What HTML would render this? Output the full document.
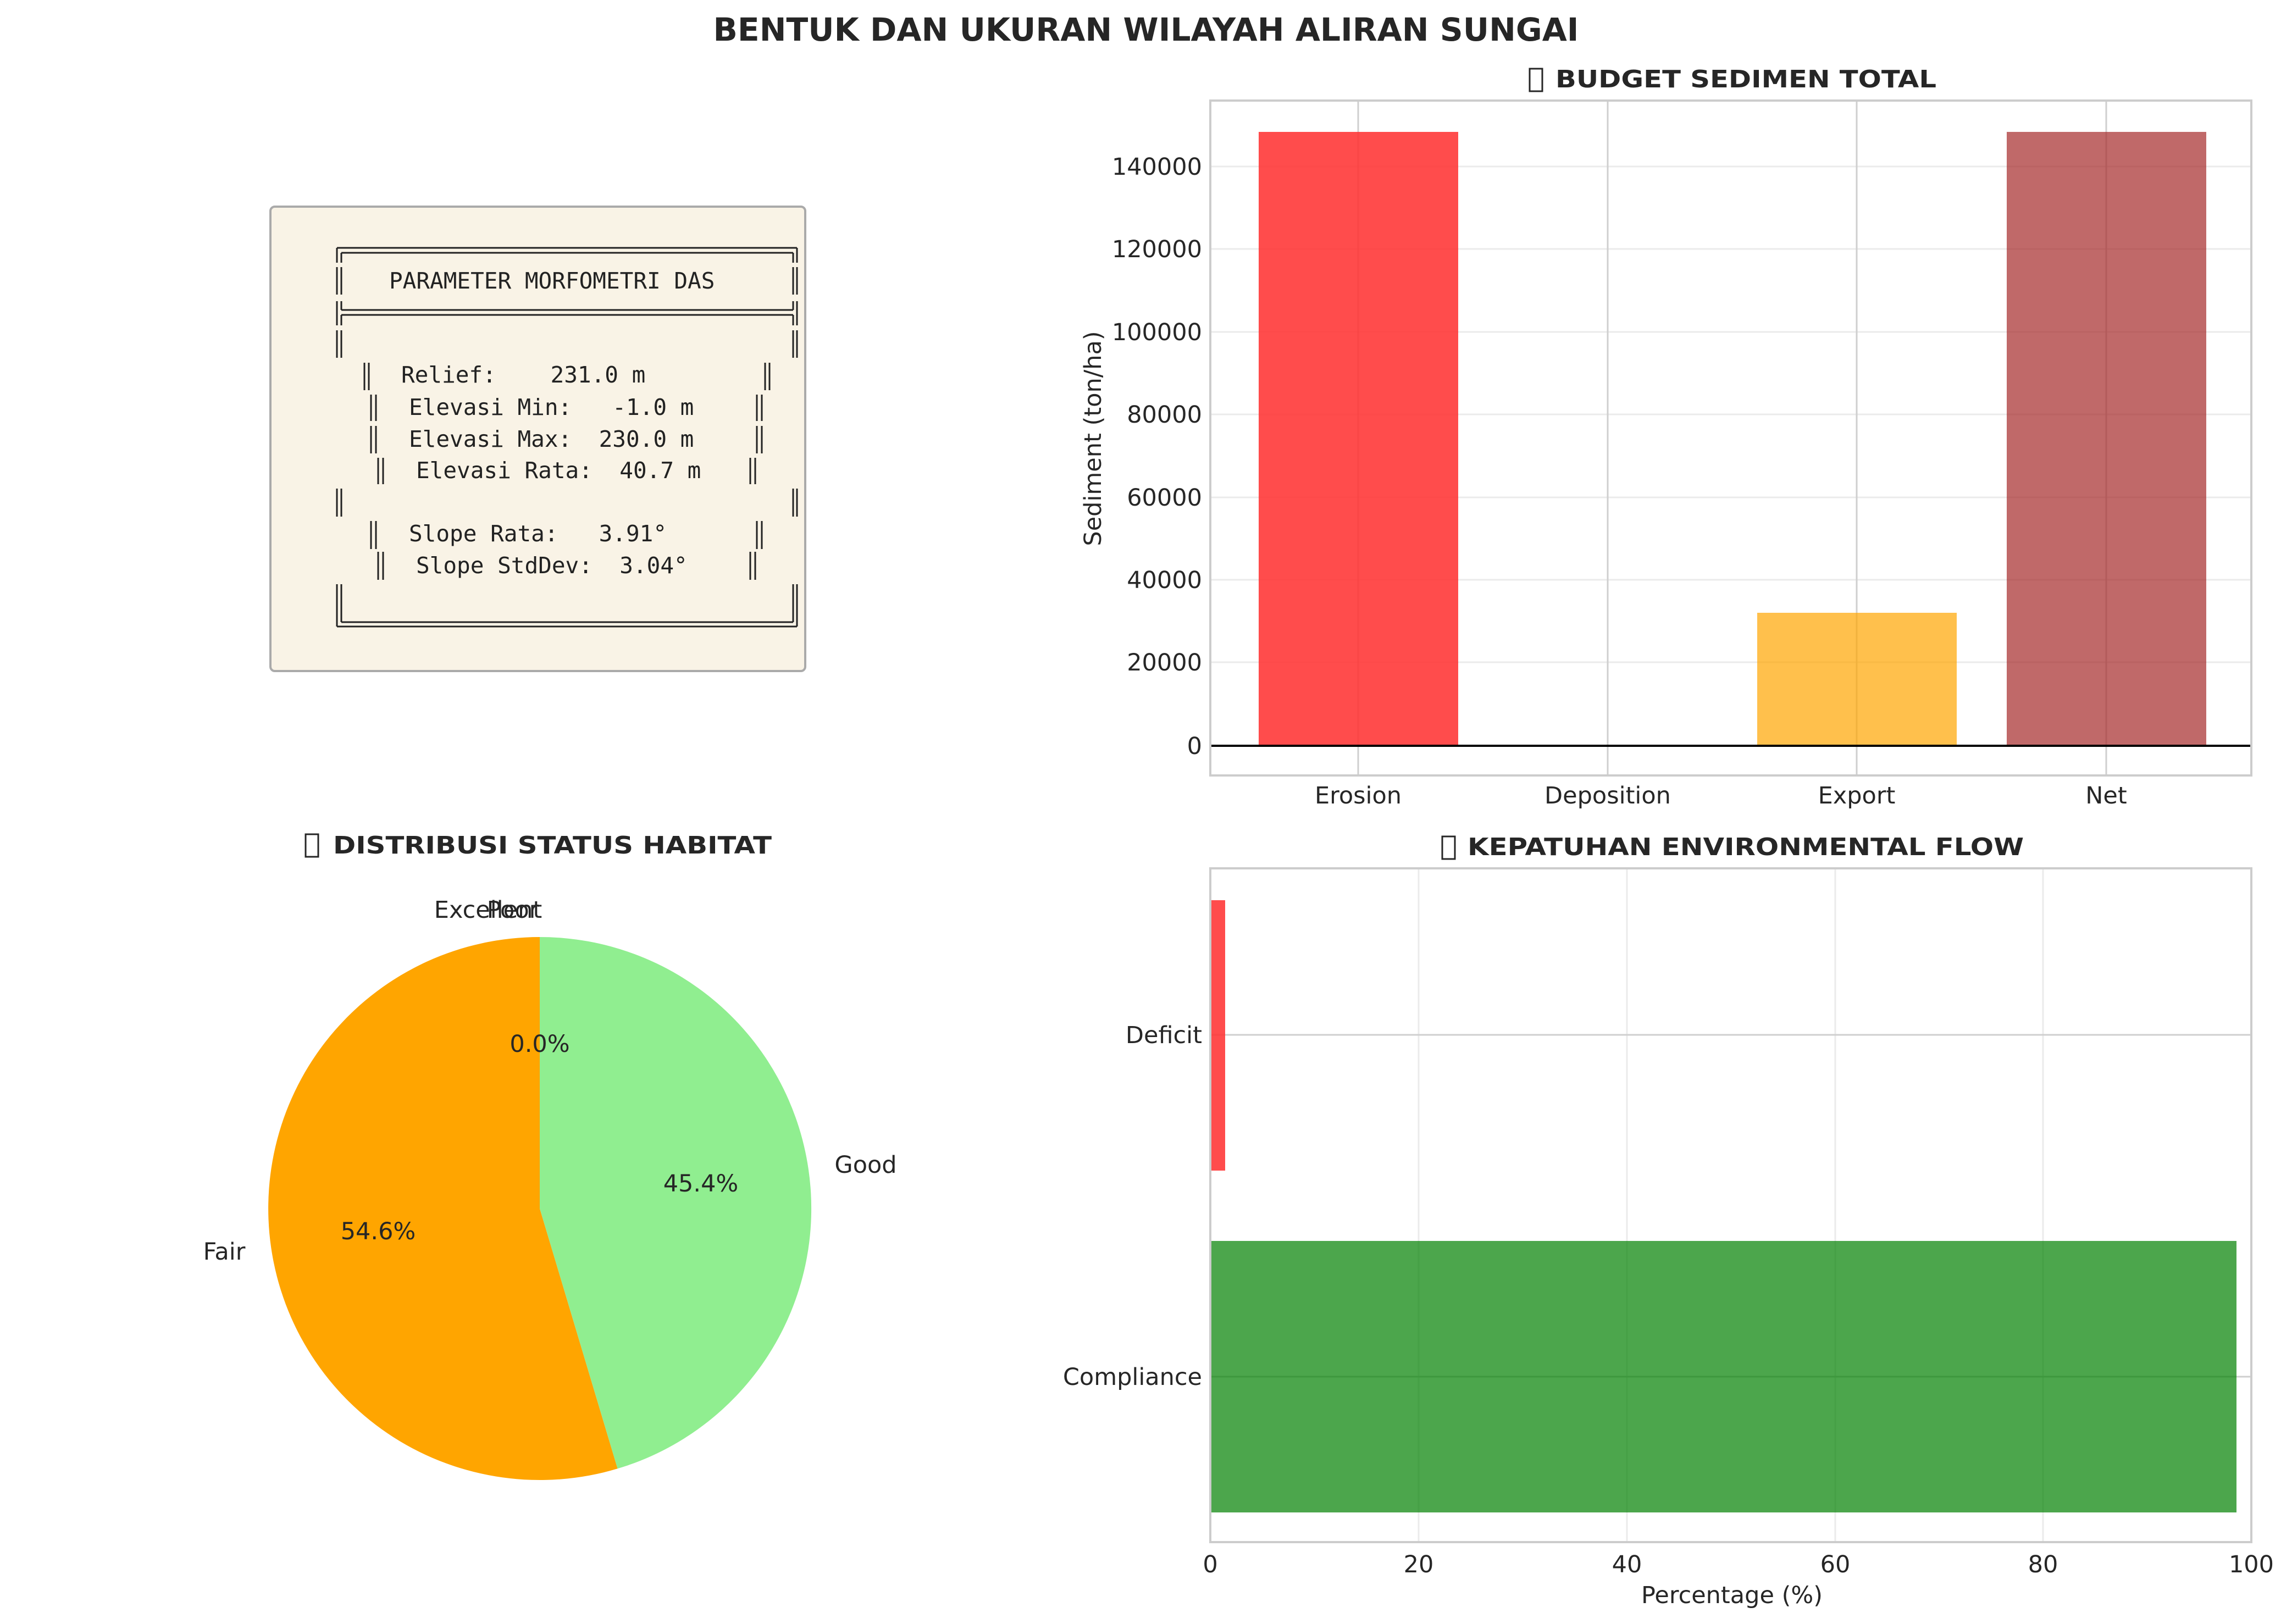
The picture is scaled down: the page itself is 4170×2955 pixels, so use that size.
<!DOCTYPE html>
<html><head><meta charset="utf-8"><style>
html,body{margin:0;padding:0;background:#fff;}
svg{display:block;}
text{font-family:"DejaVu Sans","Liberation Sans",sans-serif;fill:#262626;}
.m{font-family:"DejaVu Sans Mono","Liberation Mono",monospace;font-size:41px;fill:#222;white-space:pre;}
.t{font-size:43px;}
.h{font-size:44px;font-weight:bold;}
</style></head><body>
<svg width="4170" height="2955" viewBox="0 0 4170 2955" xmlns="http://www.w3.org/2000/svg">
<rect width="4170" height="2955" fill="#fff"/>
<text x="2085" y="74" text-anchor="middle" font-size="58" font-weight="bold" textLength="1575" lengthAdjust="spacingAndGlyphs">BENTUK DAN UKURAN WILAYAH ALIRAN SUNGAI</text>

<!-- Text box -->
<rect x="492" y="376" width="973" height="845" rx="8" fill="#f9f3e6" stroke="#aaa" stroke-width="4"/>
<g stroke="#222" stroke-width="3" fill="none">
<line x1="613" y1="451" x2="1450" y2="451"/><line x1="621" y1="460" x2="1443" y2="460"/>
<line x1="613" y1="451" x2="613" y2="478"/><line x1="621" y1="460" x2="621" y2="478"/>
<line x1="1450" y1="451" x2="1450" y2="478"/><line x1="1443" y1="460" x2="1443" y2="478"/>
<line x1="613" y1="486" x2="613" y2="536"/><line x1="621" y1="486" x2="621" y2="536"/>
<line x1="1443" y1="486" x2="1443" y2="536"/><line x1="1450" y1="486" x2="1450" y2="536"/>
<line x1="613" y1="548" x2="613" y2="592"/><line x1="621" y1="548" x2="621" y2="564"/><line x1="621" y1="573" x2="621" y2="592"/>
<line x1="1450" y1="548" x2="1450" y2="592"/><line x1="1443" y1="548" x2="1443" y2="564"/><line x1="1443" y1="573" x2="1443" y2="592"/>
<line x1="621" y1="564" x2="1443" y2="564"/><line x1="621" y1="573" x2="1443" y2="573"/>
<line x1="613" y1="601" x2="613" y2="651"/><line x1="621" y1="601" x2="621" y2="651"/>
<line x1="1443" y1="601" x2="1443" y2="651"/><line x1="1450" y1="601" x2="1450" y2="651"/>
<line x1="613" y1="889" x2="613" y2="940"/><line x1="621" y1="889" x2="621" y2="940"/>
<line x1="1443" y1="889" x2="1443" y2="940"/><line x1="1450" y1="889" x2="1450" y2="940"/>
<line x1="613" y1="1063" x2="613" y2="1140"/><line x1="621" y1="1063" x2="621" y2="1132"/>
<line x1="1450" y1="1063" x2="1450" y2="1140"/><line x1="1443" y1="1063" x2="1443" y2="1132"/>
<line x1="613" y1="1140" x2="1450" y2="1140"/><line x1="621" y1="1132" x2="1443" y2="1132"/>
<line x1="663" y1="660" x2="663" y2="710"/><line x1="671" y1="660" x2="671" y2="710"/>
<line x1="1392" y1="660" x2="1392" y2="710"/><line x1="1400" y1="660" x2="1400" y2="710"/>
<line x1="675" y1="718" x2="675" y2="766"/><line x1="684" y1="718" x2="684" y2="766"/>
<line x1="1377" y1="718" x2="1377" y2="766"/><line x1="1386" y1="718" x2="1386" y2="766"/>
<line x1="675" y1="775" x2="675" y2="825"/><line x1="684" y1="775" x2="684" y2="825"/>
<line x1="1377" y1="775" x2="1377" y2="825"/><line x1="1386" y1="775" x2="1386" y2="825"/>
<line x1="688" y1="833" x2="688" y2="881"/><line x1="697" y1="833" x2="697" y2="881"/>
<line x1="1365" y1="833" x2="1365" y2="881"/><line x1="1374" y1="833" x2="1374" y2="881"/>
<line x1="675" y1="948" x2="675" y2="999"/><line x1="684" y1="948" x2="684" y2="999"/>
<line x1="1377" y1="948" x2="1377" y2="999"/><line x1="1386" y1="948" x2="1386" y2="999"/>
<line x1="688" y1="1004" x2="688" y2="1055"/><line x1="697" y1="1004" x2="697" y2="1055"/>
<line x1="1365" y1="1004" x2="1365" y2="1055"/><line x1="1374" y1="1004" x2="1374" y2="1055"/>
</g>
<text class="m" x="708" y="525">PARAMETER MORFOMETRI DAS</text>
<text class="m" x="730" y="696">Relief:    231.0 m</text>
<text class="m" x="744" y="755">Elevasi Min:   -1.0 m</text>
<text class="m" x="744" y="813">Elevasi Max:  230.0 m</text>
<text class="m" x="757" y="870">Elevasi Rata:  40.7 m</text>
<text class="m" x="744" y="985">Slope Rata:   3.91°</text>
<text class="m" x="757" y="1043">Slope StdDev:  3.04°</text>

<!-- Top right bar chart -->
<rect x="2783" y="125" width="23" height="41" fill="none" stroke="#262626" stroke-width="3"/>
<text class="h" x="2830" y="159" textLength="693" lengthAdjust="spacingAndGlyphs">BUDGET SEDIMEN TOTAL</text>
<g stroke="#ebebeb" stroke-width="3">
<line x1="2202" y1="1205" x2="4096" y2="1205"/><line x1="2202" y1="1055" x2="4096" y2="1055"/>
<line x1="2202" y1="905" x2="4096" y2="905"/><line x1="2202" y1="754" x2="4096" y2="754"/>
<line x1="2202" y1="604" x2="4096" y2="604"/><line x1="2202" y1="453" x2="4096" y2="453"/>
<line x1="2202" y1="303" x2="4096" y2="303"/>
</g>
<g stroke="#cfcfcf" stroke-width="3">
<line x1="2471" y1="183" x2="2471" y2="1410"/><line x1="2925" y1="183" x2="2925" y2="1410"/>
<line x1="3378" y1="183" x2="3378" y2="1410"/><line x1="3832" y1="183" x2="3832" y2="1410"/>
</g>
<rect x="2290" y="240" width="363" height="1116" fill="#ff3333" fill-opacity="0.88"/>
<rect x="3197" y="1115" width="363" height="241" fill="#ffa500" fill-opacity="0.7"/>
<rect x="3651" y="240" width="363" height="1116" fill="#a52a2a" fill-opacity="0.7"/>
<line x1="2202" y1="1357" x2="4096" y2="1357" stroke="#000" stroke-width="4"/>
<rect x="2202" y="183" width="1894" height="1228" fill="none" stroke="#cccccc" stroke-width="4"/>
<g text-anchor="end">
<text class="t" x="2187" y="1372">0</text><text class="t" x="2187" y="1220">20000</text>
<text class="t" x="2187" y="1070">40000</text><text class="t" x="2187" y="920">60000</text>
<text class="t" x="2187" y="769">80000</text><text class="t" x="2187" y="619">100000</text>
<text class="t" x="2187" y="468">120000</text><text class="t" x="2187" y="318">140000</text>
</g>
<g text-anchor="middle">
<text class="t" x="2471" y="1462">Erosion</text><text class="t" x="2925" y="1462">Deposition</text>
<text class="t" x="3378" y="1462">Export</text><text class="t" x="3832" y="1462">Net</text>
</g>
<text class="t" x="0" y="0" text-anchor="middle" transform="translate(2003,798) rotate(-90)">Sediment (ton/ha)</text>

<!-- Pie -->
<rect x="556" y="1518" width="23" height="41" fill="none" stroke="#262626" stroke-width="3"/>
<text class="h" x="606" y="1553" textLength="798" lengthAdjust="spacingAndGlyphs">DISTRIBUSI STATUS HABITAT</text>
<path d="M982,2199 L982,1705 A494,494 0 1,0 1123.6,2672.3 Z" fill="#ffa500"/>
<path d="M982,2199 L1123.6,2672.3 A494,494 0 0,0 982,1705 Z" fill="#90ee90"/>
<g text-anchor="middle">
<text class="t" x="888" y="1670">Excellent</text>
<text class="t" x="933" y="1670">Poor</text>
<text class="t" x="408" y="2292">Fair</text>
<text class="t" x="1575" y="2134">Good</text>
<text class="t" x="982" y="1914">0.0%</text>
<text class="t" x="688" y="2255">54.6%</text>
<text class="t" x="1275" y="2168">45.4%</text>
</g>

<!-- Bottom right horizontal bars -->
<rect x="2624" y="1522" width="23" height="41" fill="none" stroke="#262626" stroke-width="3"/>
<text class="h" x="2670" y="1556" textLength="1012" lengthAdjust="spacingAndGlyphs">KEPATUHAN ENVIRONMENTAL FLOW</text>
<g stroke="#ebebeb" stroke-width="3">
<line x1="2581" y1="1580" x2="2581" y2="2806"/><line x1="2960" y1="1580" x2="2960" y2="2806"/>
<line x1="3339" y1="1580" x2="3339" y2="2806"/><line x1="3717" y1="1580" x2="3717" y2="2806"/>
</g>
<g stroke="#cfcfcf" stroke-width="3">
<line x1="2202" y1="1883" x2="4096" y2="1883"/><line x1="2202" y1="2505" x2="4096" y2="2505"/>
</g>
<rect x="2202" y="1638" width="27" height="492" fill="#ff3333" fill-opacity="0.88"/>
<rect x="2202" y="2258" width="1867" height="494" fill="#008000" fill-opacity="0.7"/>
<rect x="2202" y="1580" width="1894" height="1226" fill="none" stroke="#cccccc" stroke-width="4"/>
<g text-anchor="end">
<text class="t" x="2187" y="1898">Deficit</text>
<text class="t" x="2187" y="2520">Compliance</text>
</g>
<g text-anchor="middle">
<text class="t" x="2202" y="2861">0</text><text class="t" x="2581" y="2861">20</text>
<text class="t" x="2960" y="2861">40</text><text class="t" x="3339" y="2861">60</text>
<text class="t" x="3717" y="2861">80</text><text class="t" x="4096" y="2861">100</text>
<text class="t" x="3151" y="2917">Percentage (%)</text>
</g>
</svg>
</body></html>
